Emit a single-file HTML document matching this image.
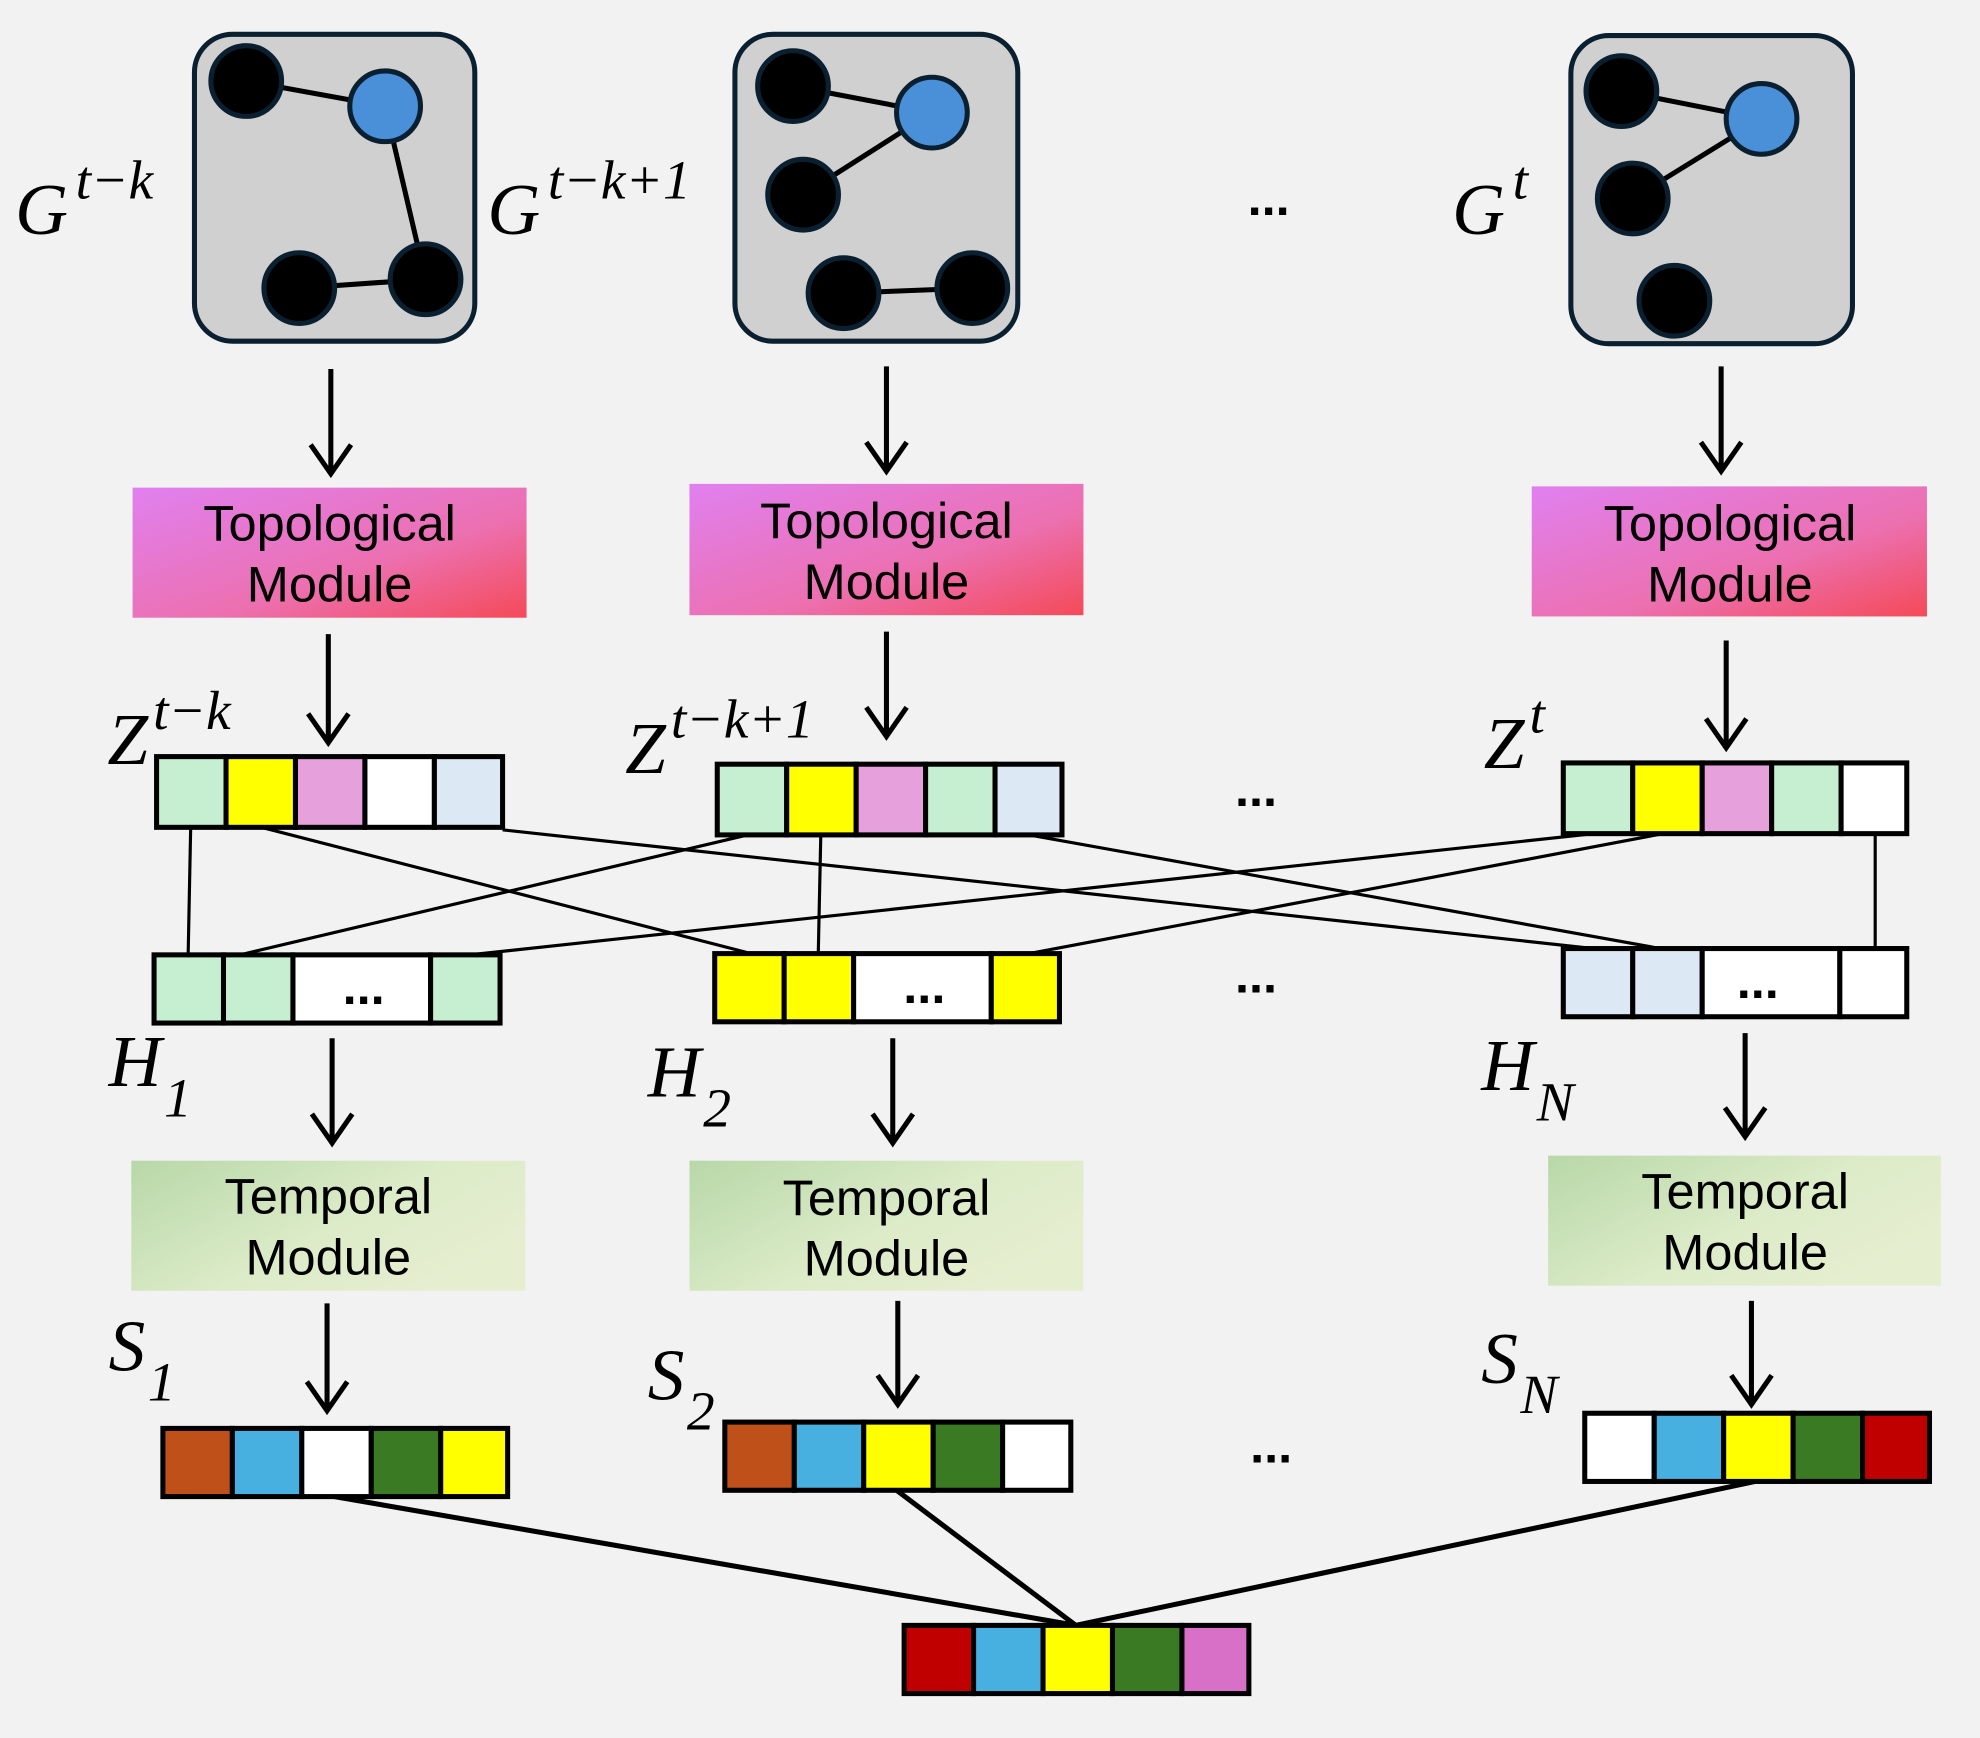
<!DOCTYPE html>
<html><head><meta charset="utf-8"><style>
html,body{margin:0;padding:0;background:#f2f2f2;}
svg{display:block;}
.m{font-family:"Liberation Serif",serif;font-style:italic;}
.s{font-family:"Liberation Sans",sans-serif;font-size:40px;fill:#000;}
</style></head><body>
<svg width="1980" height="1738" viewBox="0 0 1568 1376" xmlns="http://www.w3.org/2000/svg">
<defs>
<linearGradient id="tp" x1="0" y1="0" x2="1" y2="1"><stop offset="0" stop-color="#e080f0"/><stop offset="0.6" stop-color="#ec70b0"/><stop offset="1" stop-color="#f44a58"/></linearGradient>
<linearGradient id="tm" x1="0" y1="0" x2="1" y2="0.6"><stop offset="0" stop-color="#b8d8a8"/><stop offset="0.6" stop-color="#dcebc8"/><stop offset="1" stop-color="#e6eed0"/></linearGradient>
</defs>
<rect width="1568" height="1376" fill="#f2f2f2"/>
<g stroke="#0a2030" stroke-width="4">
<rect x="154" y="27" width="222" height="243" rx="30" fill="#d0d0d0"/>
<rect x="582" y="27" width="224" height="243" rx="30" fill="#d0d0d0"/>
<rect x="1244" y="28" width="223" height="244" rx="30" fill="#d0d0d0"/>
<g stroke="#000" stroke-width="4">
<line x1="195" y1="64" x2="305" y2="84"/><line x1="305" y1="84" x2="337" y2="221"/><line x1="237" y1="228" x2="337" y2="221"/>
<line x1="628" y1="68" x2="738" y2="89"/><line x1="738" y1="89" x2="636" y2="154"/><line x1="668" y1="232" x2="770" y2="228"/>
<line x1="1284" y1="72" x2="1395" y2="94"/><line x1="1395" y1="94" x2="1293" y2="157"/>
</g>
<circle cx="195" cy="64" r="28" fill="#000"/><circle cx="305" cy="84" r="28" fill="#4a90d8"/><circle cx="237" cy="228" r="28" fill="#000"/><circle cx="337" cy="221" r="28" fill="#000"/>
<circle cx="628" cy="68" r="28" fill="#000"/><circle cx="738" cy="89" r="28" fill="#4a90d8"/><circle cx="636" cy="154" r="28" fill="#000"/><circle cx="668" cy="232" r="28" fill="#000"/><circle cx="770" cy="228" r="28" fill="#000"/>
<circle cx="1284" cy="72" r="28" fill="#000"/><circle cx="1395" cy="94" r="28" fill="#4a90d8"/><circle cx="1293" cy="157" r="28" fill="#000"/><circle cx="1326" cy="238" r="28" fill="#000"/>
</g>
<g class="m" font-size="58">
<text x="12" y="185">G<tspan font-size="44" dy="-28" dx="6">t−k</tspan></text>
<text x="386" y="185">G<tspan font-size="44" dy="-28" dx="6">t−k+1</tspan></text>
<text x="1150" y="185">G<tspan font-size="44" dy="-28" dx="6">t</tspan></text>
<text x="85" y="605">Z<tspan font-size="44" dy="-28" dx="4">t−k</tspan></text>
<text x="495" y="612">Z<tspan font-size="44" dy="-28" dx="4">t−k+1</tspan></text>
<text x="1175" y="608">Z<tspan font-size="44" dy="-28" dx="4">t</tspan></text>
<text x="86" y="860">H<tspan font-size="44" dy="24" dx="2">1</tspan></text>
<text x="513" y="868">H<tspan font-size="44" dy="24" dx="2">2</tspan></text>
<text x="1173" y="863">H<tspan font-size="44" dy="24" dx="2">N</tspan></text>
<text x="86" y="1085">S<tspan font-size="44" dy="24" dx="2">1</tspan></text>
<text x="513" y="1108">S<tspan font-size="44" dy="24" dx="2">2</tspan></text>
<text x="1173" y="1095">S<tspan font-size="44" dy="24" dx="2">N</tspan></text>
</g>
<g font-family="Liberation Sans,sans-serif" font-size="40" font-weight="bold">
<text x="988" y="170">...</text><text x="978" y="638">...</text><text x="978" y="786">...</text><text x="990" y="1158">...</text>
</g>
<g stroke="#000" stroke-width="4" fill="none">
<path d="M262 292V373M246 352L262 375L278 352"/>
<path d="M702 290V371M686 350L702 373L718 350"/>
<path d="M1363 290V371M1347 350L1363 373L1379 350"/>
<path d="M260 502V586M244 565L260 588L276 565"/>
<path d="M702 500V581M686 560L702 583L718 560"/>
<path d="M1367 507V590M1351 569L1367 592L1383 569"/>
<path d="M263 822V903M247 882L263 905L279 882"/>
<path d="M707 822V903M691 882L707 905L723 882"/>
<path d="M1382 818V898M1366 877L1382 900L1398 877"/>
<path d="M259 1032V1115M243 1094L259 1117L275 1094"/>
<path d="M711 1030V1110M695 1089L711 1112L727 1089"/>
<path d="M1387 1030V1110M1371 1089L1387 1112L1403 1089"/>
</g>
<rect x="105" y="386" width="312" height="103" fill="url(#tp)"/>
<rect x="546" y="383" width="312" height="104" fill="url(#tp)"/>
<rect x="1213" y="385" width="313" height="103" fill="url(#tp)"/>
<rect x="104" y="919" width="312" height="103" fill="url(#tm)"/>
<rect x="546" y="919" width="312" height="103" fill="url(#tm)"/>
<rect x="1226" y="915" width="311" height="103" fill="url(#tm)"/>
<g class="s" text-anchor="middle">
<text x="261" y="428">Topological</text><text x="261" y="476">Module</text>
<text x="702" y="426">Topological</text><text x="702" y="474">Module</text>
<text x="1370" y="428">Topological</text><text x="1370" y="476">Module</text>
<text x="260" y="961">Temporal</text><text x="260" y="1009">Module</text>
<text x="702" y="962">Temporal</text><text x="702" y="1010">Module</text>
<text x="1382" y="957">Temporal</text><text x="1382" y="1005">Module</text>
</g>
<g stroke="#000" stroke-width="2.5">
<line x1="151" y1="655" x2="149" y2="756"/>
<line x1="207" y1="655" x2="595" y2="755"/>
<line x1="398" y1="657" x2="1262" y2="751"/>
<line x1="592" y1="661" x2="190" y2="756"/>
<line x1="650" y1="661" x2="648" y2="755"/>
<line x1="815" y1="661" x2="1315" y2="751"/>
<line x1="1262" y1="660" x2="372" y2="756"/>
<line x1="1317" y1="660" x2="815" y2="755"/>
<line x1="1485" y1="660" x2="1485" y2="751"/>
</g>
<g stroke="#000" stroke-width="4">
<line x1="265" y1="1185" x2="852" y2="1287"/>
<line x1="710" y1="1180" x2="852" y2="1287"/>
<line x1="1390" y1="1173" x2="852" y2="1287"/>
</g>
<g stroke="#000" stroke-width="4">
<rect x="124" y="599" width="55" height="56" fill="#c5efd0"/><rect x="179" y="599" width="55" height="56" fill="#ffff00"/><rect x="234" y="599" width="55" height="56" fill="#e6a0dc"/><rect x="289" y="599" width="55" height="56" fill="#fff"/><rect x="344" y="599" width="54" height="56" fill="#dce8f4"/>
<rect x="568" y="605" width="55" height="56" fill="#c5efd0"/><rect x="623" y="605" width="55" height="56" fill="#ffff00"/><rect x="678" y="605" width="55" height="56" fill="#e6a0dc"/><rect x="733" y="605" width="55" height="56" fill="#c5efd0"/><rect x="788" y="605" width="53" height="56" fill="#dce8f4"/>
<rect x="1238" y="604" width="55" height="56" fill="#c5efd0"/><rect x="1293" y="604" width="55" height="56" fill="#ffff00"/><rect x="1348" y="604" width="55" height="56" fill="#e6a0dc"/><rect x="1403" y="604" width="55" height="56" fill="#c5efd0"/><rect x="1458" y="604" width="52" height="56" fill="#fff"/>
<rect x="122" y="756" width="55" height="54" fill="#c5efd0"/><rect x="177" y="756" width="55" height="54" fill="#c5efd0"/><rect x="232" y="756" width="109" height="54" fill="#fff"/><rect x="341" y="756" width="55" height="54" fill="#c5efd0"/>
<rect x="566" y="755" width="55" height="54" fill="#ffff00"/><rect x="621" y="755" width="55" height="54" fill="#ffff00"/><rect x="676" y="755" width="109" height="54" fill="#fff"/><rect x="785" y="755" width="54" height="54" fill="#ffff00"/>
<rect x="1238" y="751" width="55" height="54" fill="#dce8f4"/><rect x="1293" y="751" width="55" height="54" fill="#dce8f4"/><rect x="1348" y="751" width="109" height="54" fill="#fff"/><rect x="1457" y="751" width="53" height="54" fill="#fff"/>
<rect x="129" y="1131" width="55" height="54" fill="#c0501a"/><rect x="184" y="1131" width="55" height="54" fill="#48b0e0"/><rect x="239" y="1131" width="55" height="54" fill="#fff"/><rect x="294" y="1131" width="55" height="54" fill="#3a7a22"/><rect x="349" y="1131" width="53" height="54" fill="#ffff00"/>
<rect x="574" y="1126" width="55" height="54" fill="#c0501a"/><rect x="629" y="1126" width="55" height="54" fill="#48b0e0"/><rect x="684" y="1126" width="55" height="54" fill="#ffff00"/><rect x="739" y="1126" width="55" height="54" fill="#3a7a22"/><rect x="794" y="1126" width="54" height="54" fill="#fff"/>
<rect x="1255" y="1119" width="55" height="54" fill="#fff"/><rect x="1310" y="1119" width="55" height="54" fill="#48b0e0"/><rect x="1365" y="1119" width="55" height="54" fill="#ffff00"/><rect x="1420" y="1119" width="55" height="54" fill="#3a7a22"/><rect x="1475" y="1119" width="53" height="54" fill="#c00000"/>
<rect x="716" y="1287" width="55" height="54" fill="#c00000"/><rect x="771" y="1287" width="55" height="54" fill="#48b0e0"/><rect x="826" y="1287" width="55" height="54" fill="#ffff00"/><rect x="881" y="1287" width="55" height="54" fill="#3a7a22"/><rect x="936" y="1287" width="53" height="54" fill="#d870c8"/>
</g>
<g font-family="Liberation Sans,sans-serif" font-size="40" font-weight="bold" text-anchor="middle">
<text x="288" y="795">...</text><text x="732" y="794">...</text><text x="1392" y="790">...</text>
</g>
</svg>
</body></html>
